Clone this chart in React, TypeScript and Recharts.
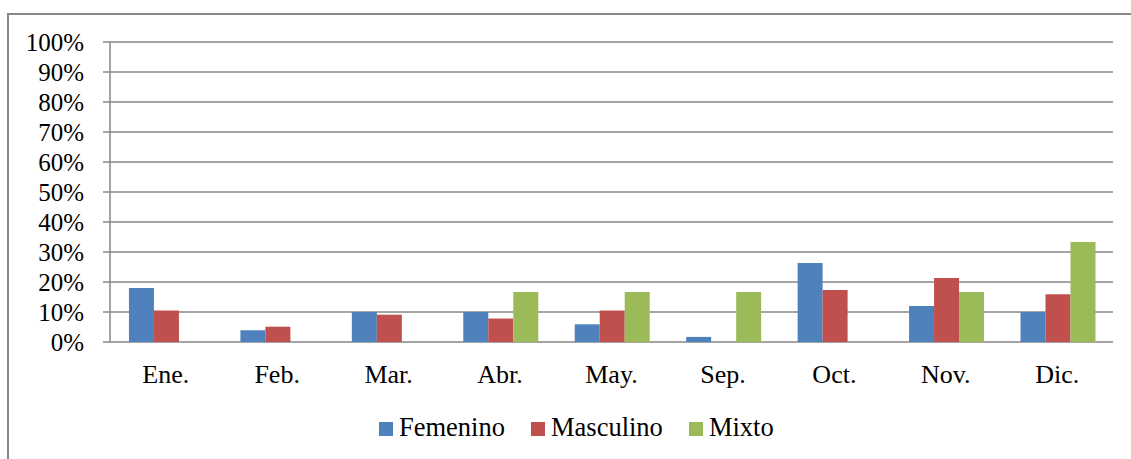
import React from 'react';
import { BarChart, Bar, XAxis, YAxis, CartesianGrid, Legend } from 'recharts';

const months = ['Ene.', 'Feb.', 'Mar.', 'Abr.', 'May.', 'Sep.', 'Oct.', 'Nov.', 'Dic.'];
const femenino = [0.18, 0.039, 0.1, 0.1, 0.059, 0.017, 0.263, 0.12, 0.1];
const masculino = [0.105, 0.051, 0.091, 0.078, 0.105, 0, 0.173, 0.213, 0.159];
const mixto = [0, 0, 0, 0.167, 0.167, 0.167, 0, 0.167, 0.333];
const yTicks = [0, 0.1, 0.2, 0.3, 0.4, 0.5, 0.6, 0.7, 0.8, 0.9, 1];
const edgeTicks = months.map((_, i) => i).concat([months.length]);

const data = months.map((m, i) => ({
  month: m,
  Femenino: femenino[i],
  Masculino: masculino[i],
  Mixto: mixto[i],
}));

const GRAY = '#878787';
const FONT = '"Liberation Serif", "Times New Roman", serif';

function LegendBox({ payload }: any) {
  return (
    <div style={{ display: 'flex', alignItems: 'baseline', paddingLeft: 379, fontFamily: FONT, fontSize: 26.5, lineHeight: '30px', color: '#000' }}>
      {(payload || []).map((p: any) => (
        <span key={p.value} style={{ display: 'inline-flex', alignItems: 'baseline', marginRight: 26 }}>
          <span style={{ display: 'inline-block', width: 14, height: 14, background: p.color, marginRight: 6 }} />
          {p.value}
        </span>
      ))}
    </div>
  );
}

export default function App() {
  return (
    <div style={{ position: 'fixed', left: 0, top: 0, width: 1131, height: 459, overflow: 'hidden', background: '#fff' }}>
      <div style={{ position: 'absolute', left: 7, top: 13, width: 1200, height: 600, border: `2px solid ${GRAY}` }} />
      <div style={{ position: 'absolute', left: 0, top: 0 }}>
        <BarChart
          width={1131}
          height={459}
          data={data}
          margin={{ top: 42, right: 18, left: 0, bottom: 115 }}
          barCategoryGap="17%"
          barGap={0}
        >
          <CartesianGrid vertical={false} stroke={GRAY} strokeWidth={1.5} />
          <XAxis
            xAxisId="cat"
            dataKey="month"
            height={1}
            tickLine={false}
            axisLine={false}
            tickSize={0}
            tickMargin={23}
            interval={0}
            tick={{ fill: '#000', fontFamily: FONT, fontSize: 26 }}
          />
          <XAxis
            xAxisId="edge"
            type="number"
            domain={[0, months.length]}
            ticks={edgeTicks}
            height={1}
            tick={false}
            tickSize={7}
            axisLine={false}
            tickLine={{ stroke: GRAY, strokeWidth: 1.5 }}
          />
          <YAxis
            width={110}
            domain={[0, 1]}
            ticks={yTicks}
            interval={0}
            tickFormatter={(v) => `${Math.round(v * 100)}%`}
            tickSize={7}
            tickMargin={19}
            axisLine={{ stroke: GRAY, strokeWidth: 1.5 }}
            tickLine={{ stroke: GRAY, strokeWidth: 1.5 }}
            tick={{ fill: '#000', fontFamily: FONT, fontSize: 25 }}
          />
          <Legend
            verticalAlign="middle"
            align="center"
            content={<LegendBox />}
            wrapperStyle={{ top: 412, left: 0, width: 1131 }}
          />
          <Bar xAxisId="cat" dataKey="Femenino" fill="#4F81BD" isAnimationActive={false} />
          <Bar xAxisId="cat" dataKey="Masculino" fill="#C0504D" isAnimationActive={false} />
          <Bar xAxisId="cat" dataKey="Mixto" fill="#9BBB59" isAnimationActive={false} />
        </BarChart>
      </div>
    </div>
  );
}
